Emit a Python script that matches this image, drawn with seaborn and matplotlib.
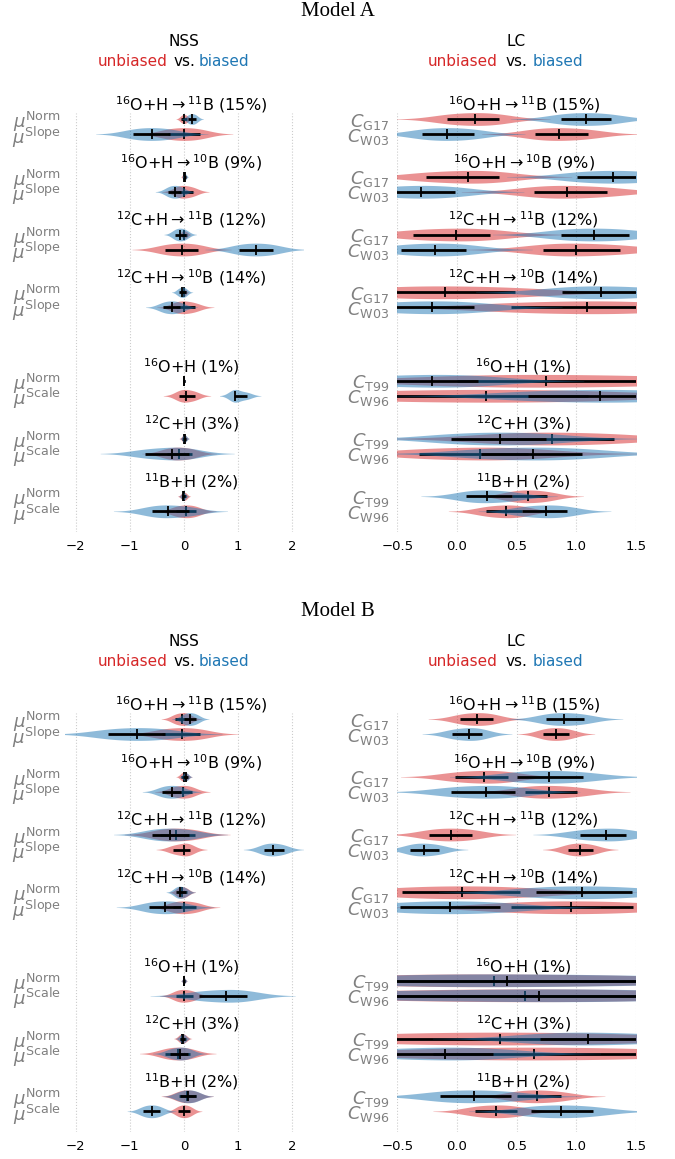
import numpy as np
import matplotlib
matplotlib.use("Agg")
import matplotlib.pyplot as plt
import matplotlib.transforms as mtransforms
import seaborn as sns

RED = "#d62728"
BLUE = "#1f77b4"

# group titles (top to bottom)
REACTIONS = [
    r"$^{16}$O+H$\rightarrow$$^{11}$B (15%)",
    r"$^{16}$O+H$\rightarrow$$^{10}$B (9%)",
    r"$^{12}$C+H$\rightarrow$$^{11}$B (12%)",
    r"$^{12}$C+H$\rightarrow$$^{10}$B (14%)",
    r"$^{16}$O+H (1%)",
    r"$^{12}$C+H (3%)",
    r"$^{11}$B+H (2%)",
]
NSS_LABELS = [r"$\mu^{\mathrm{Norm}}$", r"$\mu^{\mathrm{Slope}}$"] * 4 + \
             [r"$\mu^{\mathrm{Norm}}$", r"$\mu^{\mathrm{Scale}}$"] * 3
LC_LABELS = [r"$C_{\mathrm{G17}}$", r"$C_{\mathrm{W03}}$"] * 4 + \
            [r"$C_{\mathrm{T99}}$", r"$C_{\mathrm{W96}}$"] * 3

NSS_TICKS = [-2, -1, 0, 1, 2]
LC_TICKS = [-0.5, 0.0, 0.5, 1.0, 1.5]

# each entry: [lower, median, upper], one per row
A_NSS_UNBIASED = [[-0.05, 0.0, 0.05], [-0.3, 0.0, 0.3], [-0.02, 0.0, 0.02], [-0.12, 0.0, 0.17],
                  [-0.03, 0.0, 0.05], [-0.35, -0.04, 0.26], [-0.03, 0.0, 0.03], [-0.15, 0.0, 0.2],
                  [-0.01, 0.0, 0.01], [-0.09, 0.03, 0.2], [-0.03, 0.0, 0.03], [-0.32, -0.1, 0.14],
                  [-0.04, 0.0, 0.04], [-0.15, 0.04, 0.22]]
A_NSS_BIASED = [[0.08, 0.15, 0.22], [-0.94, -0.6, -0.25], [0.0, 0.02, 0.04], [-0.29, -0.17, -0.05],
                [-0.17, -0.07, 0.03], [1.02, 1.33, 1.65], [-0.1, -0.03, 0.03], [-0.39, -0.23, -0.07],
                [-0.01, 0.0, 0.01], [0.92, 0.95, 1.16], [-0.02, 0.01, 0.04], [-0.72, -0.23, 0.1],
                [-0.04, -0.01, 0.02], [-0.6, -0.29, 0.1]]
A_LC_UNBIASED = [[-0.08, 0.15, 0.35], [0.655, 0.86, 1.1], [-0.26, 0.09, 0.35], [0.65, 0.92, 1.26],
                 [-0.37, -0.01, 0.28], [0.72, 1.0, 1.37], [-0.6, -0.1, 0.49], [0.45, 1.09, 1.6],
                 [0.0, 0.75, 1.7], [-0.7, 0.24, 1.1], [0.35, 0.8, 1.32], [-0.32, 0.19, 0.6],
                 [0.46, 0.6, 0.76], [0.24, 0.41, 0.55]]
A_LC_BIASED = [[0.87, 1.08, 1.29], [-0.29, -0.08, 0.14], [1.01, 1.31, 1.6], [-0.6, -0.3, -0.02],
               [0.87, 1.15, 1.44], [-0.47, -0.18, 0.08], [0.88, 1.21, 1.6], [-0.6, -0.21, 0.14],
               [-0.7, -0.21, 0.18], [0.6, 1.2, 1.7], [-0.05, 0.36, 0.75], [0.2, 0.64, 1.05],
               [0.08, 0.25, 0.46], [0.55, 0.75, 0.92]]

B_NSS_UNBIASED = [[-0.17, -0.03, 0.08], [-0.4, -0.04, 0.3], [-0.05, 0.0, 0.05], [-0.2, -0.02, 0.14],
                  [-0.45, -0.14, 0.2], [-0.2, 0.0, 0.11], [-0.11, -0.04, 0.05], [-0.2, 0.0, 0.23],
                  [-0.02, 0.0, 0.02], [-0.14, 0.0, 0.17], [-0.08, -0.03, 0.03], [-0.35, -0.11, 0.12],
                  [-0.1, 0.06, 0.22], [-0.11, 0.0, 0.11]]
B_NSS_BIASED = [[0.0, 0.11, 0.23], [-1.4, -0.86, -0.35], [-0.01, 0.03, 0.07], [-0.41, -0.23, -0.05],
                [-0.6, -0.26, 0.1], [1.47, 1.64, 1.84], [-0.15, -0.07, 0.03], [-0.65, -0.35, -0.05],
                [-0.02, 0.0, 0.02], [0.27, 0.78, 1.16], [-0.07, -0.02, 0.02], [-0.25, -0.07, 0.08],
                [-0.08, 0.08, 0.23], [-0.75, -0.6, -0.45]]
B_LC_UNBIASED = [[0.03, 0.17, 0.3], [0.725, 0.83, 0.94], [-0.02, 0.23, 0.43], [0.57, 0.77, 1.01],
                 [-0.23, -0.05, 0.13], [0.93, 1.03, 1.14], [-0.46, 0.04, 0.53], [0.45, 0.96, 1.48],
                 [-0.6, 0.31, 1.55], [-0.55, 0.57, 1.6], [-0.55, 0.36, 1.3], [-0.2, 0.65, 1.55],
                 [0.5, 0.67, 0.87], [0.15, 0.33, 0.5]]
B_LC_BIASED = [[0.75, 0.9, 1.07], [-0.04, 0.1, 0.21], [0.5, 0.77, 1.06], [-0.05, 0.24, 0.49],
               [1.03, 1.25, 1.42], [-0.39, -0.28, -0.15], [0.66, 1.05, 1.47], [-0.48, -0.06, 0.36],
               [-0.55, 0.42, 1.6], [-0.6, 0.69, 1.6], [0.7, 1.1, 1.6], [-0.6, -0.1, 0.3],
               [-0.14, 0.14, 0.45], [0.62, 0.87, 1.14]]

sns.set_style("white")
plt.rcParams["font.family"] = ["DejaVu Sans"]
plt.rcParams["mathtext.fontset"] = "dejavusans"
plt.rcParams["text.color"] = "black"
plt.rcParams["xtick.color"] = "black"

W, H = 675, 1159
fig = plt.figure(figsize=(W / 100, H / 100), dpi=100)

GROUP_BASE = [0, 3.85, 7.7, 11.55, 17.45, 21.3, 25.15]
ROW_POS = [b + k for b in GROUP_BASE for k in (0, 1)]


def fy(px):
    return 1 - px / H


def draw_violin(ax, vals, pos, color, z):
    lo, med, hi = vals
    w = min(0.85, 0.85 * np.sqrt((hi - lo) / 0.2))
    sns.violinplot(x=vals, y=[pos] * len(vals), orient="h", native_scale=True,
                   width=w, color=color, saturation=1, inner=None, linewidth=0,
                   density_norm="width", cut=2.5, alpha=0.5, zorder=z, ax=ax)
    ax.hlines(pos, lo, hi, color="k", lw=2, zorder=z + 0.1)
    ax.plot([med], [pos], marker="|", ms=7, mew=1.3, color="k", zorder=z + 0.2)


def draw_panel(ax, unbiased, biased, labels, ticks, xlim, ypad):
    for i, pos in enumerate(ROW_POS):
        draw_violin(ax, unbiased[i], pos, RED, 1)
        draw_violin(ax, biased[i], pos, BLUE, 2)
    ax.set_xlim(*xlim)
    ax.set_ylim(27.51, -0.38)
    ax.set_yticks(ROW_POS)
    ax.set_yticklabels(labels)
    ax.set_xticks(ticks)
    ax.set_xlabel("")
    ax.set_ylabel("")
    ax.tick_params(axis="y", length=0, pad=ypad, labelsize=13, labelcolor="#808080")
    ax.tick_params(axis="x", length=0, pad=6, labelsize=9.5, labelcolor="black")
    ax.grid(axis="x", ls=":", color="#cccccc", lw=0.8)
    ax.grid(axis="y", visible=False)
    ax.set_axisbelow(True)
    sns.despine(ax=ax, left=True, bottom=True)
    trans = mtransforms.blended_transform_factory(ax.transAxes, ax.transData)
    for base, title in zip(GROUP_BASE, REACTIONS):
        ax.text(0.53, base - 0.58, title, transform=trans, ha="center",
                va="baseline", fontsize=11.5, color="black")


models = [("Model A", 0, A_NSS_UNBIASED, A_NSS_BIASED, A_LC_UNBIASED, A_LC_BIASED),
          ("Model B", 600, B_NSS_UNBIASED, B_NSS_BIASED, B_LC_UNBIASED, B_LC_BIASED)]

for name, off, nss_u, nss_b, lc_u, lc_b in models:
    bottom = fy(531.7 + off)
    height = 418.4 / H
    ax1 = fig.add_axes([65 / W, bottom, 238 / W, height])
    ax2 = fig.add_axes([397.3 / W, bottom, 238.4 / W, height])
    draw_panel(ax1, nss_u, nss_b, NSS_LABELS, NSS_TICKS, (-2.2, 2.2), 3)
    draw_panel(ax2, lc_u, lc_b, LC_LABELS, LC_TICKS, (-0.5, 1.5), 6)

    fig.text(0.5, fy(12 + off), name, ha="center", va="center", fontsize=15,
             family=["Liberation Serif", "DejaVu Serif"], color="black")
    for cx, rgap, lgap, head in [(184, 16, 15, "NSS"), (516.5, 19, 16, "LC")]:
        fig.text(cx / W, fy(42 + off), head, ha="center", va="center", fontsize=11)
        fig.text(cx / W, fy(62 + off), "vs.", ha="center", va="center", fontsize=11)
        fig.text((cx - rgap) / W, fy(62 + off), "unbiased", color=RED, ha="right",
                 va="center", fontsize=11)
        fig.text((cx + lgap) / W, fy(62 + off), "biased", color=BLUE, ha="left",
                 va="center", fontsize=11)

fig.savefig("out.png", dpi=100)
